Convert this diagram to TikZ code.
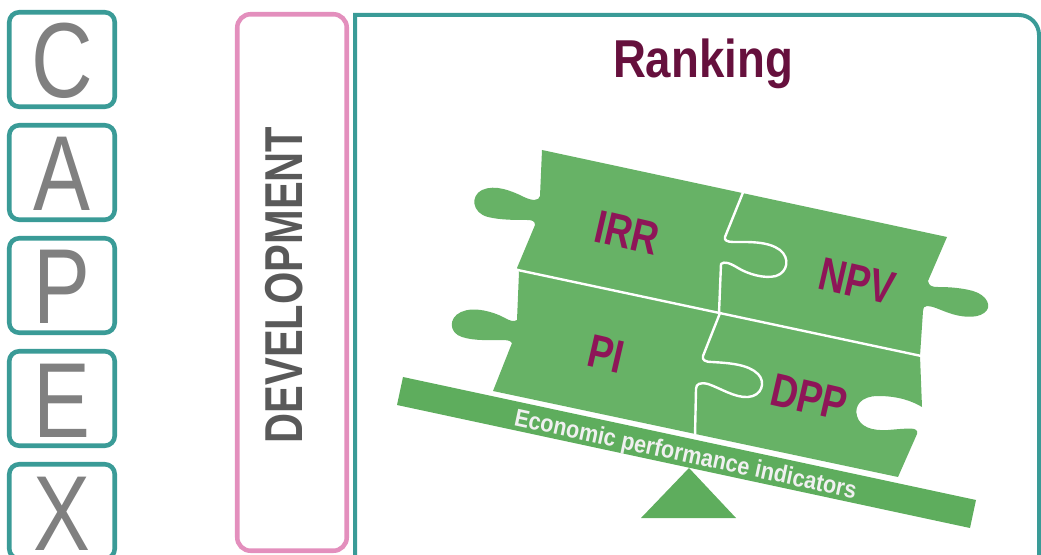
\documentclass[tikz,border=0pt]{standalone}
\usepackage{fontspec}
\setmainfont{Liberation Sans}
\usepackage{graphicx}

\definecolor{capexteal}{HTML}{3A9B97}
\definecolor{devpink}{HTML}{E38FBD}
\definecolor{puzzlegreen}{HTML}{67B266}
\definecolor{beamgreen}{HTML}{5EAD5D}
\definecolor{labelplum}{HTML}{8E1558}
\definecolor{titleplum}{HTML}{66103D}
\definecolor{lettergray}{HTML}{808080}
\definecolor{devgray}{HTML}{595959}
\definecolor{beamtext}{HTML}{F0F0F0}

\tikzset{
  letterbox/.style={draw=capexteal, line width=3.4pt, rounded corners=7.5pt},
  capexletter/.style={text=lettergray, font=\fontsize{80}{80}\selectfont, anchor=base, inner sep=0pt},
  piecelabel/.style={text=labelplum, font=\bfseries\fontsize{35}{35}\selectfont, rotate=-13, inner sep=0pt},
  seam/.style={draw=white, line width=1.8pt, line join=round, line cap=round},
}

\begin{document}
\begin{tikzpicture}[x=0.75pt,y=-0.75pt]
\useasboundingbox (0,0) rectangle (1041,555);
\clip (0,0) rectangle (1041,555);

% C-A-P-E-X column of letter boxes
\foreach \ch [count=\i from 0] in {C,A,P,E,X} {
  \pgfmathsetmacro\boxtop{10+113*\i}
  \draw[letterbox] (9.25,\boxtop+2.25) rectangle (114.75,\boxtop+96.75);
  \node[capexletter] (cap\i) at (62,\boxtop+88) {\scalebox{0.8}[1]{\ch}};
}

% development stage frame
\draw[devpink, line width=3.4pt, rounded corners=10pt] (237.25,14.25) rectangle (346.75,550.75);
\node[rotate=90, text=devgray, font=\bfseries\fontsize{40}{40}\selectfont, inner sep=0pt] (dev) at (284,285)
  {\scalebox{0.78}[1]{DEVELOPMENT}};

% ranking frame
\draw[capexteal, line width=3pt] (355,570) -- (355,15) -- (1019,15)
  arc[start angle=-90, end angle=0, radius=20] -- (1039,570);
\node[text=titleplum, font=\bfseries\fontsize{40}{40}\selectfont, anchor=base, inner sep=0pt] (title) at (703,78)
  {\scalebox{0.855}[1]{Ranking}};

% puzzle of four pieces (outer outline)
\fill[puzzlegreen]
  (542,150) -- (947,237) -- (928,281)
  .. controls (929,286) and (932,287) .. (938,287)
  .. controls (950,287) and (962,288) .. (973,291)
  .. controls (987,295) and (993,307) .. (984,313)
  .. controls (976,319) and (960,317) .. (949,313)
  .. controls (940,310) and (933,306) .. (927,306)
  .. controls (924,306) and (923,308) .. (923,311)
  -- (920,356) -- (922,407)
  .. controls (912,401) and (898,396) .. (878,396)
  .. controls (861,396) and (854,406) .. (857,416)
  .. controls (860,427) and (872,431) .. (888,430)
  .. controls (900,429) and (910,428) .. (914,429)
  .. controls (917,430) and (918,432) .. (917,434)
  -- (898,477) -- (493,391) -- (512,343)
  .. controls (510,340) and (506,340) .. (500,340)
  .. controls (490,340) and (474,341) .. (462,337)
  .. controls (449,333) and (448,318) .. (461,312)
  .. controls (474,306) and (494,312) .. (505,318)
  .. controls (510,321) and (514,322) .. (517,320)
  -- (519,272) -- (517,268) -- (535,225)
  .. controls (535,221) and (532,220) .. (527,220)
  .. controls (515,220) and (500,220) .. (488,217)
  .. controls (472,213) and (470,196) .. (482,190)
  .. controls (495,184) and (512,191) .. (524,197)
  .. controls (532,201) and (539,201) .. (540,196)
  -- cycle;

% seams between the pieces
\draw[seam] (513,269) -- (926,357);
\draw[seam] (744,190) -- (725,237)
  .. controls (724,240) and (727,242) .. (733,242)
  .. controls (748,242) and (768,241) .. (780,250)
  .. controls (790,258) and (788,272) .. (776,276)
  .. controls (764,279) and (748,274) .. (738,268)
  .. controls (730,263) and (724,261) .. (721,264)
  -- (719,313);
\draw[seam] (720,313) -- (703,356)
  .. controls (702,360) and (705,362) .. (712,362)
  .. controls (728,363) and (748,364) .. (758,374)
  .. controls (766,382) and (762,396) .. (748,397)
  .. controls (735,398) and (720,388) .. (708,384)
  .. controls (700,382) and (696,384) .. (696,389)
  -- (695,436);

% piece labels
\node[piecelabel] (irr) at (627,233) {\scalebox{0.8}[1]{IRR}};
\node[piecelabel] (npv) at (857,281) {\scalebox{0.8}[1]{NPV}};
\node[piecelabel] (pi)  at (606,354) {\scalebox{0.8}[1]{PI}};
\node[piecelabel] (dpp) at (809,397) {\scalebox{0.8}[1]{DPP}};

% balance beam and fulcrum
\fill[beamgreen] (403,377) -- (976,500) -- (970,528) -- (397,405) -- cycle;
\fill[beamgreen] (689,468) -- (736,518) -- (641,518) -- cycle;
\node[rotate=-12.1, text=beamtext, font=\bfseries\fontsize{18.4}{18.4}\selectfont, anchor=base, inner sep=0pt] (epi) at (684,462)
  {\scalebox{0.88}[1]{Economic performance indicators}};
\end{tikzpicture}
\end{document}
